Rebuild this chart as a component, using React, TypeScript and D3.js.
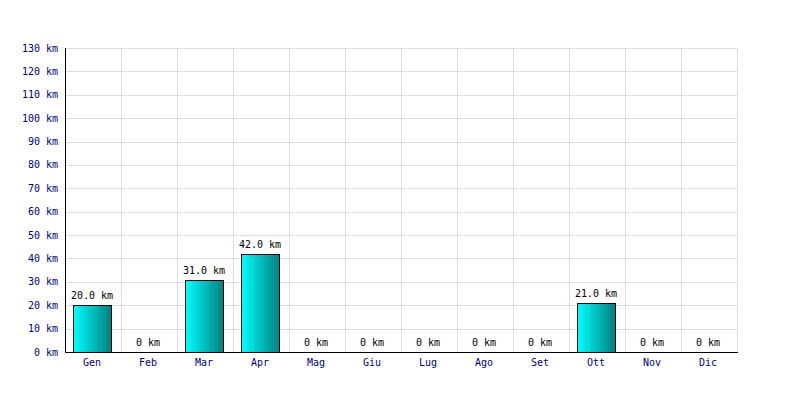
import React from "react";
import * as d3 from "d3";

const months = ["Gen", "Feb", "Mar", "Apr", "Mag", "Giu", "Lug", "Ago", "Set", "Ott", "Nov", "Dic"];
const values = [20, 0, 31, 42, 0, 0, 0, 0, 0, 21, 0, 0];
const yTicks = [0, 10, 20, 30, 40, 50, 60, 70, 80, 90, 100, 110, 120, 130];

const W = 800, H = 400;
const left = 65, right = 737, top = 48, bottom = 352;
const font = "'DejaVu Sans Mono', monospace";

export default function App() {
  const x = d3.scaleBand<string>().domain(months).range([left, right]).paddingInner(0).paddingOuter(0);
  const y = d3.scaleLinear().domain([0, 130]).range([bottom, top]);
  const bw = 38;
  const fmt = (v: number) => (v === 0 ? "0 km" : `${v.toFixed(1)} km`);
  return (
    <svg width={W} height={H} style={{ position: "absolute", left: 0, top: 0, background: "#fff" }}>
      <defs>
        <linearGradient id="barGrad" x1="0" x2="1" y1="0" y2="0">
          <stop offset="0%" stopColor="#00ffff" />
          <stop offset="100%" stopColor="#008080" />
        </linearGradient>
      </defs>
      <rect x={0} y={0} width={W} height={H} fill="#fff" />
      {yTicks.map((t) => (
        <line key={"gy" + t} x1={left} x2={right} y1={Math.round(y(t)) + 0.5} y2={Math.round(y(t)) + 0.5} stroke="#dddddd" />
      ))}
      {months.map((m) => (
        <line key={"gx" + m} x1={Math.round(x(m)! + x.bandwidth()) + 0.5} x2={Math.round(x(m)! + x.bandwidth()) + 0.5} y1={top} y2={bottom} stroke="#dddddd" />
      ))}
      {months.map((m, i) => {
        const v = values[i];
        const cx = x(m)! + x.bandwidth() / 2 - 1;
        return (
          <g key={"b" + m}>
            {v > 0 && (
              <rect x={Math.round(cx - bw / 2) + 0.5} y={Math.round(y(v)) + 0.5} width={bw} height={Math.round(bottom - y(v))} fill="url(#barGrad)" stroke="#000" strokeWidth={1} />
            )}
            <text x={cx} y={y(v) - 6} textAnchor="middle" fontFamily={font} fontSize={10} fill="#000">{fmt(v)}</text>
            <text x={cx} y={366} textAnchor="middle" fontFamily={font} fontSize={10} fill="#000080">{m}</text>
          </g>
        );
      })}
      {yTicks.map((t) => (
        <text key={"ty" + t} x={58} y={y(t) + 3.5} textAnchor="end" fontFamily={font} fontSize={10} fill="#000080">{t} km</text>
      ))}
      <line x1={left + 0.5} x2={left + 0.5} y1={top} y2={bottom + 1} stroke="#000" />
      <line x1={left} x2={right + 1} y1={bottom + 0.5} y2={bottom + 0.5} stroke="#000" />
    </svg>
  );
}
